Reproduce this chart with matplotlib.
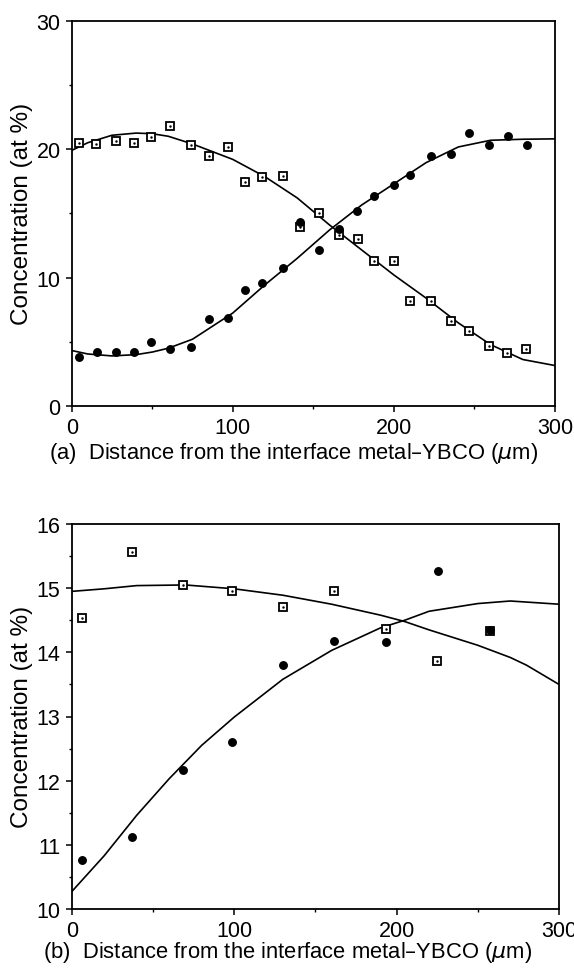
import matplotlib
matplotlib.use("Agg")
import matplotlib.pyplot as plt
from matplotlib.ticker import MultipleLocator

plt.rcParams['font.family'] = ['Liberation Sans', 'DejaVu Sans']

# ---- panel (a) data ----
a_sq_x = [4.5, 15.1, 27.8, 38.9, 49.3, 61.0, 73.9, 85.0, 96.8, 107.6, 118.0, 131.0, 142.0,
          153.5, 166.0, 177.7, 187.9, 199.9, 210.0, 223.0, 235.6, 246.4, 259.3, 270.0, 282.0]
a_sq_y = [20.5, 20.4, 20.66, 20.45, 20.95, 21.8, 20.35, 19.45, 20.15, 17.43, 17.84, 17.87, 13.96,
          15.05, 13.29, 12.98, 11.3, 11.3, 8.15, 8.15, 6.6, 5.82, 4.7, 4.16, 4.42]
a_dot_x = [4.5, 15.6, 27.8, 38.7, 49.3, 61.0, 73.9, 85.0, 96.8, 107.6, 118.0, 131.0, 142.0,
           153.5, 166.0, 177.3, 187.9, 199.9, 210.0, 223.0, 235.6, 246.9, 259.3, 270.6, 282.6]
a_dot_y = [3.8, 4.19, 4.19, 4.2, 4.99, 4.47, 4.63, 6.78, 6.85, 9.05, 9.57, 10.78, 14.3,
           12.15, 13.76, 15.2, 16.34, 17.2, 18.0, 19.45, 19.6, 21.28, 20.3, 21.0, 20.35]

# fitted curves (a)
a_fit_x = [0, 10, 25, 40, 50, 60, 75, 100, 120, 140, 160, 180, 200, 220, 240, 260, 280, 300]
a_fit_sq = [19.9, 20.5, 21.08, 21.25, 21.2, 21.0, 20.4, 19.2, 17.85, 16.2, 14.1, 12.15, 10.2,
            8.4, 6.47, 4.78, 3.62, 3.15]
a_fit_dot = [4.32, 4.05, 3.9, 4.0, 4.2, 4.5, 5.2, 7.24, 9.44, 11.5, 13.7, 15.65, 17.3,
             18.95, 20.17, 20.69, 20.77, 20.8]

# ---- panel (b) data ----
b_sq_x = [6.1, 37.2, 68.3, 98.8, 130.2, 161.5, 193.3, 225.1, 257.6]
b_sq_y = [14.54, 15.56, 15.05, 14.95, 14.71, 14.95, 14.37, 13.87, 14.33]
b_dot_x = [6.1, 37.2, 68.3, 98.4, 130.2, 161.7, 193.3, 225.5, 257.6]
b_dot_y = [10.76, 11.12, 12.17, 12.61, 13.81, 14.18, 14.16, 15.26, 14.35]

# fitted curves (b)
b_fit_x = [0, 20, 40, 70, 100, 130, 160, 190, 205, 220, 250, 270, 280, 300]
b_fit_sq = [14.95, 14.99, 15.04, 15.05, 14.99, 14.89, 14.75, 14.58, 14.48, 14.35, 14.11,
            13.92, 13.8, 13.5]
b_fit_x2 = [0, 20, 40, 60, 80, 100, 130, 160, 190, 205, 220, 250, 270, 300]
b_fit_dot = [10.27, 10.83, 11.46, 12.03, 12.55, 12.99, 13.58, 14.03, 14.38, 14.5, 14.64,
             14.76, 14.8, 14.75]

W, H = 574, 970
fig = plt.figure(figsize=(W / 100, H / 100), dpi=100)


def style_axes(ax, ymin, ymax, ymajor, yminor):
    ax.set_xlim(0, 300)
    ax.set_ylim(ymin, ymax)
    ax.xaxis.set_major_locator(MultipleLocator(100))
    ax.xaxis.set_minor_locator(MultipleLocator(50))
    ax.yaxis.set_major_locator(MultipleLocator(ymajor))
    ax.yaxis.set_minor_locator(MultipleLocator(yminor))
    ax.tick_params(which='major', direction='out', length=4.5, width=1.1,
                   labelsize=15.5, pad=3.5)
    ax.tick_params(which='minor', direction='out', length=2.5, width=1.0)
    for s in ax.spines.values():
        s.set_linewidth(1.3)


def draw_points(ax, sx, sy, dx, dy):
    ax.plot(sx, sy, 's', ms=5.4, mfc='white', mec='black', mew=1.3, zorder=3)
    ax.plot(sx, sy, '.', ms=1.5, color='black', zorder=4)
    ax.plot(dx, dy, 'o', ms=5.4, color='black', zorder=5)


# panel (a)
ax1 = fig.add_axes([71.7 / W, 1 - 407 / H, (555 - 71.7) / W, (407 - 21.7) / H])
ax1.plot(a_fit_x, a_fit_sq, color='black', lw=1.2)
ax1.plot(a_fit_x, a_fit_dot, color='black', lw=1.2)
draw_points(ax1, a_sq_x, a_sq_y, a_dot_x, a_dot_y)
style_axes(ax1, 0, 30, 10, 5)

# panel (b)
ax2 = fig.add_axes([71.7 / W, 1 - 910 / H, (559 - 71.7) / W, (910 - 525) / H])
ax2.plot(b_fit_x, b_fit_sq, color='black', lw=1.2)
ax2.plot(b_fit_x2, b_fit_dot, color='black', lw=1.2)
draw_points(ax2, b_sq_x, b_sq_y, b_dot_x, b_dot_y)
style_axes(ax2, 10, 16, 1, 0.5)

# labels
fig.text(294 / W, 1 - 453 / H, '(a)  Distance from the interface metal\u2013YBCO ($\\mu$m)',
         ha='center', va='center', fontsize=15.8)
fig.text(288 / W, 1 - 953 / H, '(b)  Distance from the interface metal\u2013YBCO ($\\mu$m)',
         ha='center', va='center', fontsize=15.8)
fig.text(22 / W, 1 - 214 / H, 'Concentration (at %)', rotation=90,
         ha='center', va='center', fontsize=17.5)
fig.text(22 / W, 1 - 717 / H, 'Concentration (at %)', rotation=90,
         ha='center', va='center', fontsize=17.5)

fig.savefig('out.png', dpi=100)
